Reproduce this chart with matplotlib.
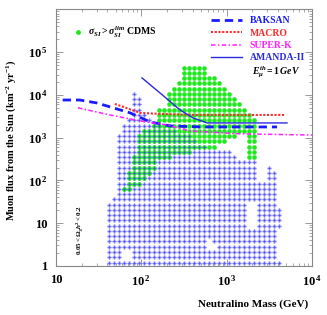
import numpy as np
import matplotlib
matplotlib.use('Agg')
from matplotlib import pyplot as plt

plt.rcParams['font.family'] = ['Liberation Serif', 'DejaVu Serif']
plt.rcParams['font.weight'] = 'bold'
plt.rcParams['mathtext.fontset'] = 'custom'
plt.rcParams['mathtext.rm'] = 'Liberation Serif:bold'
plt.rcParams['mathtext.it'] = 'Liberation Serif:bold:italic'
plt.rcParams['mathtext.bf'] = 'Liberation Serif:bold'

# model scan grid (columns of neutralino mass, rows of muon flux)
mass_cols = [42.2, 48.3, 55.2, 63.2, 72.3, 82.8, 94.8, 108.4, 124.1, 142.0,
             162.6, 186.1, 213.0, 243.8, 278.9, 319.2, 365.3, 418.1, 478.5, 547.6,
             626.6, 717.2, 820.7, 939.3, 1075, 1230, 1408, 1612, 1844, 2111,
             2415, 2765, 3164, 3621, 4144]
flux_rows = [1.19, 1.59, 2.11, 2.80, 3.72, 4.94, 6.56, 8.71, 11.6, 15.4,
             20.4, 27.1, 36.0, 47.9, 63.6, 84.4, 112, 149, 198, 263,
             349, 464, 616, 818, 1087, 1444, 1918, 2548, 3383, 4496,
             5970, 7930, 10540, 14000, 18590, 24700, 32800, 43580]

# highest row index with models, per column
blue_top = [11, 12, 24, 26, 27, 32, 31, 28, 27, 26, 26, 25, 25, 25, 24, 24, 24, 23, 22, 22,
            21, 21, 21, 21, 21, 20, 19, 19, 19, 19, 15, 15, 18, 17, 10]
# rows excluded by CDMS (green), per column: (low, high), None when no green
green_rows = [None, None, None, (14, 14), (14, 17), (15, 20), (15, 24), (16, 25), (17, 25), (18, 26),
              (20, 29), (20, 29), (20, 32), (21, 33), (21, 34), (21, 37), (21, 37), (22, 37), (22, 37), (22, 37),
              (22, 35), (22, 35), (23, 34), (23, 33), (24, 32), (24, 31), (25, 30), (25, 29), (20, 28), (20, 27),
              None, None, None, None, None]
# empty spots in the scan (column, row)
holes = [(3, 1), (3, 2), (4, 1), (4, 2), (20, 3), (20, 4), (21, 3),
         (28, 7), (28, 8), (28, 9), (28, 10), (28, 11), (29, 7), (29, 8), (29, 9), (29, 10), (29, 11),
         (34, 1), (34, 2), (34, 3), (34, 4), (34, 5), (34, 6)]

# experimental limits
baksan_m = [12, 19, 30, 43, 74, 127, 217, 500, 1000, 3900]
baksan_f = [7600, 7600, 6500, 5250, 3800, 2340, 1880, 1780, 1780, 1780]
macro_m = [49, 97, 165, 400, 1000, 4800]
macro_f = [6160, 3800, 3600, 3400, 3400, 3400]
superk_m = [18.1, 43, 97, 200, 370, 1435, 10000]
superk_f = [5000, 3400, 2460, 1990, 1440, 1230, 1150]
amanda_m = [102, 166, 284, 404, 590, 1500, 5100]
amanda_f = [25000, 11100, 4470, 2900, 2210, 2210, 2210]

bx, by, gx, gy = [], [], [], []
for k, m in enumerate(mass_cols):
    for j in range(blue_top[k] + 1):
        if (k, j) not in holes:
            bx.append(m)
            by.append(flux_rows[j])
    if green_rows[k] is not None:
        lo, hi = green_rows[k]
        for j in range(lo, hi + 1):
            gx.append(m)
            gy.append(flux_rows[j])

fig = plt.figure(figsize=(3.27, 3.15), dpi=100)
ax = fig.add_axes([0.171, 0.156, 0.783, 0.814])
ax.set_xscale('log')
ax.set_yscale('log')
ax.set_xlim(10, 1e4)
ax.set_ylim(1, 1e6)

ax.scatter(bx, by, s=9, color='#a4a4f2', alpha=0.7, linewidths=0, zorder=1)
ax.scatter(gx, gy, s=11, color='#1ee81e', linewidths=0, zorder=2)
ax.scatter(bx, by, s=8, marker='+', color='#3a3aff', alpha=0.85, linewidths=0.45, zorder=3)

ax.plot(baksan_m, baksan_f, color='#1a1aff', lw=2, ls=(0, (3, 1.8)), label='BAKSAN', zorder=5)
ax.plot(macro_m, macro_f, color='#ff2a2a', lw=1.5, ls=(0, (1, 0.8)), label='MACRO', zorder=5)
ax.plot(superk_m, superk_f, color='#ff20ff', lw=1.1, ls=(0, (3, 1.5, 1, 1.5)), label='SUPER-K', zorder=5)
ax.plot(amanda_m, amanda_f, color='#2a2ae0', lw=1.0, label='AMANDA-II', zorder=5)

leg = ax.legend(loc='upper right', frameon=False, fontsize=7, handlelength=3.2,
                labelspacing=0.35, borderaxespad=0.3, labelcolor='linecolor')

ax.text(0.766, 0.745, r'$E_\mu^{th} = 1\,GeV$', transform=ax.transAxes, fontsize=7)
ax.scatter([0.086], [0.912], s=12, color='#1ee81e', transform=ax.transAxes, linewidths=0)
ax.text(0.125, 0.912, r'$\sigma_{SI} > \sigma_{SI}^{lim}$ CDMS', transform=ax.transAxes,
        fontsize=7, va='center')
ax.text(0.094, 0.14, r'$0.05 < \Omega_\chi h^2 < 0.2$', transform=ax.transAxes,
        fontsize=5, rotation=90, ha='center', va='center')

ax.set_xticks([10, 100, 1000, 10000])
ax.set_xticklabels(['10', r'$10^{\,2}$', r'$10^{\,3}$', r'$10^{\,4}$'])
ax.set_yticks([1, 10, 100, 1e3, 1e4, 1e5, 1e6])
ax.set_yticklabels(['1', '10', r'$10^{\,2}$', r'$10^{\,3}$', r'$10^{\,4}$', r'$10^{\,5}$', ''])
ax.tick_params(which='both', direction='in', top=True, right=True, color='#999999',
               labelsize=9, pad=6)
ax.tick_params(which='major', length=5, width=0.7)
ax.tick_params(which='minor', length=2.5, width=0.6)
for s in ax.spines.values():
    s.set_color('#888888')
    s.set_linewidth(0.8)

ax.set_xlabel('Neutralino Mass (GeV)', fontsize=8, fontweight='bold')
ax.xaxis.set_label_coords(0.77, -0.13)
ax.set_ylabel(r'Muon flux from the Sun (km$^{-2}$ yr$^{-1}$)', fontsize=7.5, fontweight='bold')
ax.yaxis.set_label_coords(-0.15, 0.49)

plt.savefig('out.png', dpi=100)
